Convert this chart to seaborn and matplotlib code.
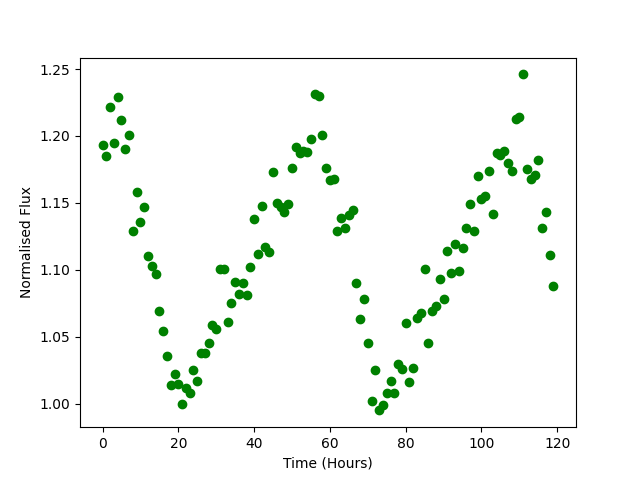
import numpy as np
import pandas as pd
import seaborn as sns
import matplotlib
matplotlib.use('Agg')
import matplotlib.pyplot as plt

hours = list(range(120))
flux = [1.193, 1.185, 1.222, 1.195, 1.229, 1.212, 1.190, 1.201, 1.129, 1.158,
        1.136, 1.147, 1.110, 1.103, 1.097, 1.069, 1.054, 1.036, 1.014, 1.022,
        1.015, 1.000, 1.012, 1.008, 1.025, 1.017, 1.038, 1.038, 1.045, 1.059,
        1.056, 1.101, 1.101, 1.061, 1.075, 1.091, 1.082, 1.090, 1.081, 1.102,
        1.138, 1.112, 1.148, 1.117, 1.113, 1.173, 1.150, 1.147, 1.143, 1.149,
        1.176, 1.192, 1.187, 1.189, 1.188, 1.198, 1.231, 1.230, 1.201, 1.176,
        1.167, 1.168, 1.129, 1.139, 1.131, 1.141, 1.145, 1.090, 1.063, 1.078,
        1.045, 1.002, 1.025, 0.995, 0.999, 1.008, 1.017, 1.008, 1.030, 1.026,
        1.060, 1.016, 1.027, 1.064, 1.068, 1.101, 1.045, 1.069, 1.073, 1.093,
        1.078, 1.114, 1.098, 1.119, 1.099, 1.116, 1.131, 1.149, 1.129, 1.170,
        1.153, 1.155, 1.174, 1.142, 1.187, 1.186, 1.189, 1.180, 1.174, 1.213,
        1.214, 1.246, 1.175, 1.168, 1.171, 1.182, 1.131, 1.143, 1.111, 1.088]

data = pd.DataFrame({'time': hours, 'flux': flux})

fig = plt.figure(figsize=(6.4, 4.8), dpi=100)
plot = sns.scatterplot(x='time', y='flux', data=data, color='green',
                       edgecolor='green', linewidth=1, s=36)
plot.set_xlabel("Time (Hours)")
plot.set_ylabel("Normalised Flux")
plt.savefig("out.png", dpi=100)
